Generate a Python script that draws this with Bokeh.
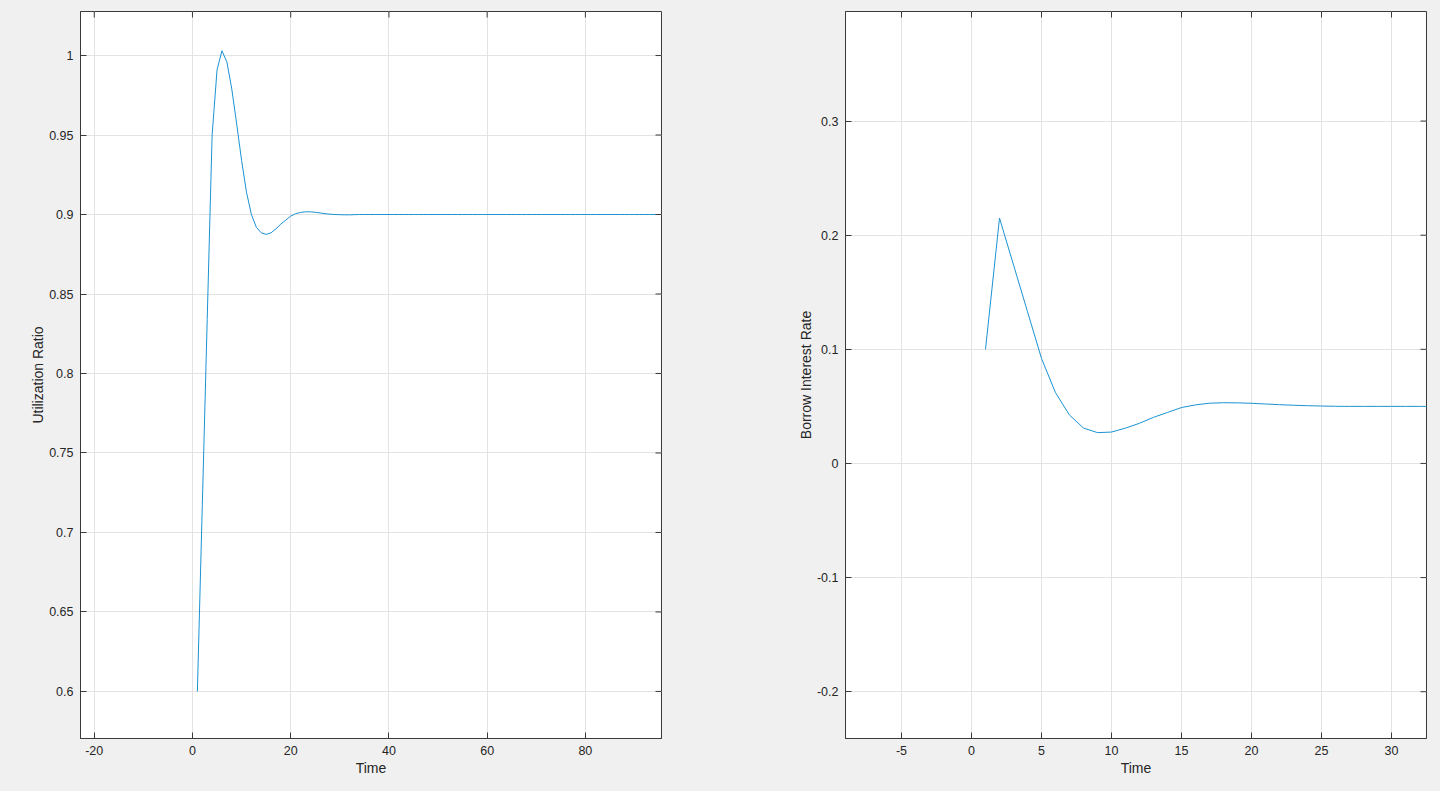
from bokeh.plotting import figure
from bokeh.layouts import row
from bokeh.models import FixedTicker, Range1d, CustomJSTickFormatter
from bokeh.embed import file_html
from bokeh.resources import INLINE

# ---- data: left panel (utilization ratio) ----
util_time = list(range(1, 101))
util_ratio = [
    0.600, 0.717, 0.834, 0.950, 0.991, 1.003, 0.996, 0.979, 0.957, 0.934,
    0.914, 0.900, 0.892, 0.8885, 0.8875, 0.8885, 0.891, 0.894, 0.8965, 0.899,
    0.9005, 0.9013, 0.9017, 0.9017, 0.9014, 0.901, 0.9005, 0.9002, 0.9000, 0.8999,
    0.8998, 0.8998, 0.8999, 0.9, 0.9, 0.9, 0.9, 0.9, 0.9, 0.9,
    0.9, 0.9, 0.9, 0.9, 0.9, 0.9, 0.9, 0.9, 0.9, 0.9,
    0.9, 0.9, 0.9, 0.9, 0.9, 0.9, 0.9, 0.9, 0.9, 0.9,
    0.9, 0.9, 0.9, 0.9, 0.9, 0.9, 0.9, 0.9, 0.9, 0.9,
    0.9, 0.9, 0.9, 0.9, 0.9, 0.9, 0.9, 0.9, 0.9, 0.9,
    0.9, 0.9, 0.9, 0.9, 0.9, 0.9, 0.9, 0.9, 0.9, 0.9,
    0.9, 0.9, 0.9, 0.9, 0.9, 0.9, 0.9, 0.9, 0.9, 0.9,
]
util_xticks = [-20, 0, 20, 40, 60, 80]
util_yticks = [0.6, 0.65, 0.7, 0.75, 0.8, 0.85, 0.9, 0.95, 1.0]

# ---- data: right panel (borrow interest rate) ----
rate_time = list(range(1, 36))
borrow_rate = [
    0.100, 0.215, 0.174, 0.133, 0.092, 0.062, 0.0424, 0.031, 0.027, 0.0275,
    0.031, 0.0352, 0.0404, 0.0447, 0.049, 0.0513, 0.0528, 0.0532, 0.0531, 0.0527,
    0.0521, 0.0515, 0.051, 0.0506, 0.0503, 0.0501, 0.0500, 0.0500, 0.0500, 0.0500,
    0.0500, 0.0500, 0.0500, 0.0500, 0.0500,
]
rate_xticks = [-5, 0, 5, 10, 15, 20, 25, 30]
rate_yticks = [-0.2, -0.1, 0.0, 0.1, 0.2, 0.3]

FONT = "Liberation Sans"
LINE = "#1a93d3"
AX = "#3a3a3a"
GRID = "#e3e3e3"
BG = "#f0f0f0"

fmt = CustomJSTickFormatter(code="return String(Number(tick.toFixed(4)));")


def make(x, y, xr, yr, xt, yt, ylabel, border_left, border_right):
    p = figure(frame_width=581, frame_height=727, output_backend="svg",
               toolbar_location=None, x_range=Range1d(*xr), y_range=Range1d(*yr),
               min_border_left=border_left, min_border_right=border_right,
               min_border_top=11, min_border_bottom=53,
               background_fill_color="white", border_fill_color=BG)
    p.line(x, y, line_color=LINE, line_width=1)
    p.outline_line_color = AX
    p.outline_line_width = 1
    p.xaxis.ticker = FixedTicker(ticks=xt)
    p.yaxis.ticker = FixedTicker(ticks=yt)
    p.xaxis.formatter = fmt
    p.yaxis.formatter = fmt
    p.xaxis.axis_label = "Time"
    p.yaxis.axis_label = ylabel
    for ax in (p.xaxis[0], p.yaxis[0]):
        ax.major_tick_in = 6
        ax.major_tick_out = 0
        ax.minor_tick_in = 0
        ax.minor_tick_out = 0
        ax.axis_line_color = AX
        ax.major_tick_line_color = AX
        ax.major_label_text_font = FONT
        ax.major_label_text_font_size = "12.5px"
        ax.major_label_text_color = "#262626"
        ax.axis_label_text_font = FONT
        ax.axis_label_text_font_size = "14px"
        ax.axis_label_text_font_style = "normal"
        ax.axis_label_text_color = "#262626"
        ax.major_label_standoff = 7
        ax.axis_label_standoff = 2
    p.yaxis.axis_label_standoff = 0
    p.xgrid.ticker = FixedTicker(ticks=xt)
    p.ygrid.ticker = FixedTicker(ticks=yt)
    p.grid.grid_line_color = GRID
    p.grid.grid_line_width = 1
    # mirrored inward ticks on the top and right edges of the box
    p.ray(x=xt, y=[yr[1]] * len(xt), length=6, length_units="screen",
          angle=-90, angle_units="deg", line_color=AX, line_width=1)
    p.ray(x=[xr[1]] * len(yt), y=yt, length=6, length_units="screen",
          angle=180, angle_units="deg", line_color=AX, line_width=1)
    return p


p1 = make(util_time, util_ratio, (-22.8, 95.5), (0.5704, 1.0277),
          util_xticks, util_yticks, "Utilization Ratio", 80, 111)
p2 = make(rate_time, borrow_rate, (-9.0, 32.5), (-0.241, 0.396),
          rate_xticks, rate_yticks, "Borrow Interest Rate", 73, 14)

p = row(p1, p2, spacing=0, styles={"background-color": BG})
open("out.html", "w").write(file_html(p, INLINE))
